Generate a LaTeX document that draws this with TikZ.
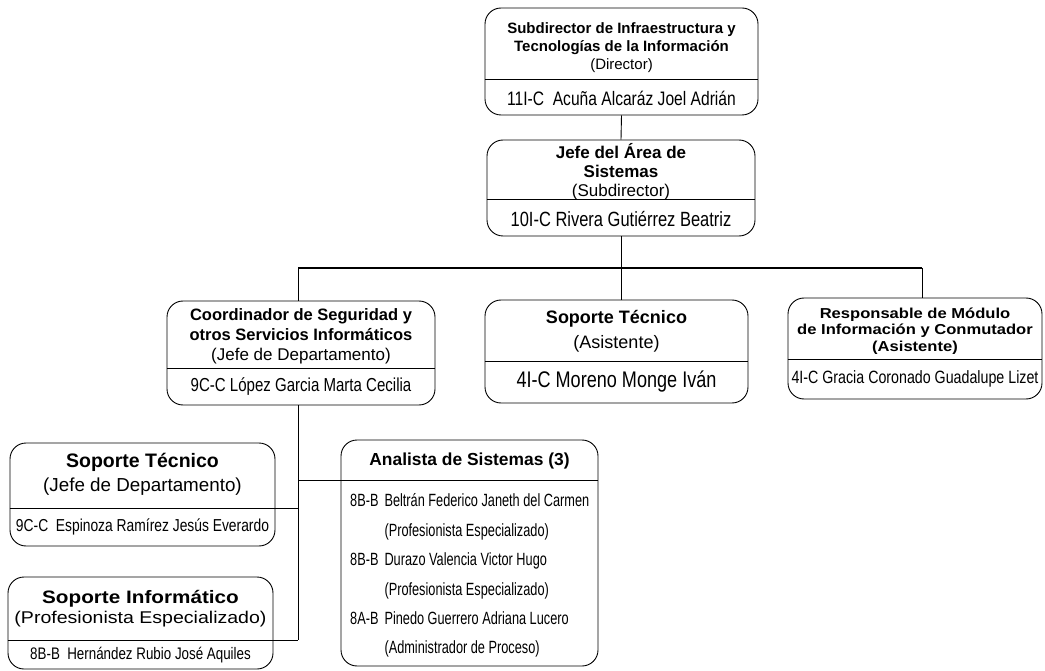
\documentclass[tikz,border=0pt]{standalone}
\usepackage{fontspec}
\setmainfont{Liberation Sans}
\newfontfamily\angosta[FakeStretch=0.8]{Liberation Sans}
\newfontfamily\muyangosta[FakeStretch=0.72]{Liberation Sans}
\newfontfamily\ancha[FakeStretch=1.15]{Liberation Sans}
\newcommand{\tam}[2]{\fontsize{#1}{#2}\selectfont}

\tikzset{
  caja/.style={draw, rounded corners=16pt, line width=0.9pt, inner sep=0pt},
  texto/.style={align=center, inner sep=0pt},
  linea/.style={line width=0.9pt},
}

\begin{document}
\begin{tikzpicture}[x=1pt,y=-1pt]
\useasboundingbox (0,0) rectangle (1045,671);

% Director
\node[caja, minimum width=273pt, minimum height=107pt] (dir) at (621.5,61.5) {};
\draw[linea] ([yshift=-72pt]dir.north west) -- ([yshift=-72pt]dir.north east);
\node[texto, font=\bfseries\tam{15}{18}] (dirT) at (621.5,48) {Subdirector de Infraestructura y\\Tecnologías de la Información\\{\mdseries (Director)}};
\node[texto, font=\angosta\tam{19.5}{20}] (dirN) at (621.5,98) {11I-C\ \ Acuña Alcaráz Joel Adrián};

% Subdirector
\node[caja, minimum width=268pt, minimum height=96pt] (jefe) at (621,188) {};
\draw[linea] ([yshift=-60pt]jefe.north west) -- ([yshift=-60pt]jefe.north east);
\node[texto, font=\bfseries\tam{17}{19}] (jefeT) at (621,171.5) {Jefe del Área de\\Sistemas\\{\mdseries (Subdirector)}};
\node[texto, font=\angosta\tam{20.6}{21}] (jefeN) at (621,219) {10I-C Rivera Gutiérrez Beatriz};

% Jefes de departamento y asistentes
\node[caja, minimum width=268pt, minimum height=104pt] (coord) at (301,353) {};
\draw[linea] ([yshift=-68pt]coord.north west) -- ([yshift=-68pt]coord.north east);
\node[texto, font=\bfseries\tam{16.5}{20}] (coordT) at (301,336) {Coordinador de Seguridad y\\otros Servicios Informáticos\\{\mdseries\tam{17}{20}(Jefe de Departamento)}};
\node[texto, font=\angosta\tam{18.8}{19}] (coordN) at (301,387) {9C-C López Garcia Marta Cecilia};

\node[caja, minimum width=263pt, minimum height=103pt] (sopA) at (616.5,351.5) {};
\draw[linea] ([yshift=-62pt]sopA.north west) -- ([yshift=-62pt]sopA.north east);
\node[texto, font=\bfseries\tam{18}{25.5}] (sopAT) at (616.5,331.5) {Soporte Técnico\\{\mdseries (Asistente)}};
\node[texto, font=\angosta\tam{22.6}{23}] (sopAN) at (616.5,382) {4I-C Moreno Monge Iván};

\node[caja, minimum width=254pt, minimum height=101pt] (resp) at (915,348.5) {};
\draw[linea] ([yshift=-62pt]resp.north west) -- ([yshift=-62pt]resp.north east);
\node[texto, font=\ancha\bfseries\tam{14.4}{16.7}] (respT) at (915,331) {Responsable de Módulo\\de Información y Conmutador\\(Asistente)};
\node[texto, font=\angosta\tam{17.8}{18}] (respN) at (915,379) {4I-C Gracia Coronado Guadalupe Lizet};

% Nivel inferior
\node[caja, minimum width=265pt, minimum height=103pt] (sopJ) at (142.5,494.5) {};
\node[texto, font=\bfseries\tam{19.5}{24}] (sopJT) at (142.5,474) {Soporte Técnico\\{\mdseries\tam{18.8}{24}(Jefe de Departamento)}};
\node[texto, font=\angosta\tam{17.3}{18}] (sopJN) at (142.5,527) {9C-C\ \ Espinoza Ramírez Jesús Everardo};

\node[caja, minimum width=265pt, minimum height=92pt] (sopI) at (140.5,623) {};
\node[texto, font=\ancha\bfseries\tam{18}{20}] (sopIT) at (140.5,609) {Soporte Informático\\{\mdseries\tam{17}{20}(Profesionista Especializado)}};
\node[texto, font=\angosta\tam{16.7}{17}] (sopIN) at (140.5,655) {8B-B\ \ Hernández Rubio José Aquiles};

\node[caja, minimum width=257pt, minimum height=226pt] (anal) at (469.5,553) {};
\node[texto, font=\bfseries\tam{17.4}{18}] (analT) at (469.5,461) {Analista de Sistemas (3)};
\node[texto, anchor=west, font=\muyangosta\tam{17.7}{29.4}] (analN) at (350,574.5) {\begin{tabular}{@{}l@{\hspace{6pt}}l@{}}
8B-B & Beltrán Federico Janeth del Carmen\\
 & (Profesionista Especializado)\\
8B-B & Durazo Valencia Victor Hugo\\
 & (Profesionista Especializado)\\
8A-B & Pinedo Guerrero Adriana Lucero\\
 & (Administrador de Proceso)
\end{tabular}};

% Conectores
\coordinate (busL) at (298,268);
\coordinate (busR) at (922,268);
\draw[linea] (dir.south) -- (jefe.north);
\draw[linea] (jefe.south) -- (jefe.south |- sopA.north);
\draw[line width=1.6pt] (busL) -- (busR);
\draw[linea] (busL) -- (busL |- coord.north);
\draw[linea] (busR) -- (busR |- resp.north);

\coordinate (divA) at (298,480);
\coordinate (divJ) at (298,508);
\coordinate (divI) at (298,640);
\draw[linea] (busL |- coord.south) -- (divI);
\draw[linea] (sopJ.west |- divJ) -- (divJ);
\draw[linea] (sopI.west |- divI) -- (divI);
\draw[linea] (divA) -- (anal.east |- divA);
\end{tikzpicture}
\end{document}
